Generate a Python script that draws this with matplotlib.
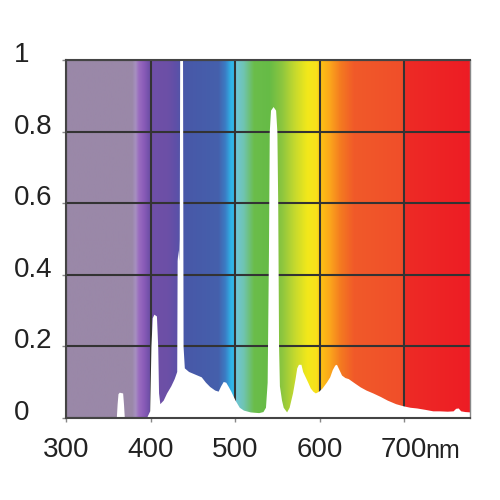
import numpy as np
import matplotlib
matplotlib.use("Agg")
import matplotlib.pyplot as plt
from matplotlib.colors import LinearSegmentedColormap
from matplotlib.transforms import ScaledTranslation

plt.rcParams['font.family'] = ['Liberation Sans', 'DejaVu Sans']

# spectrum (wavelength nm, relative intensity)
wavelength = [300, 359.5, 360.5, 361.5, 363, 367, 368, 369, 395, 397, 399, 400.5,
              402, 404, 407, 408.5, 409.5, 411, 415, 419, 424, 428, 431, 431.5,
              432.5, 433.3, 434, 434.6, 437.8, 438.5, 440, 445, 450, 455, 460, 465,
              470, 476, 480, 483, 486, 489, 492, 495, 500, 505, 510, 518, 528, 533,
              536, 538, 539.5, 540.5, 542, 545, 548, 549.5, 550.5, 551.5, 552.5, 555,
              557, 561, 564, 568, 571, 573, 575, 578, 580, 583, 586, 589, 592, 595,
              599, 603, 608, 612, 615, 618, 620, 622, 626, 630, 634, 640, 648, 655,
              663, 672, 680, 690, 699, 707, 715, 725, 734, 742, 751, 758, 761, 764,
              767, 772, 778]
intensity = [0, 0, 0.04, 0.068, 0.072, 0.07, 0.04, 0, 0, 0.01, 0.02, 0.2,
             0.28, 0.29, 0.285, 0.2, 0.07, 0.04, 0.05, 0.07, 0.09, 0.11, 0.13, 0.44,
             0.47, 0.44, 0.5, 1.1, 1.1, 0.2, 0.14, 0.13, 0.125, 0.12, 0.115, 0.1,
             0.088, 0.078, 0.075, 0.09, 0.102, 0.1, 0.088, 0.075, 0.05, 0.03, 0.022, 0.017, 0.015, 0.018,
             0.03, 0.1, 0.45, 0.8, 0.86, 0.87, 0.86, 0.8, 0.6, 0.2, 0.09, 0.05,
             0.03, 0.017, 0.03, 0.07, 0.11, 0.14, 0.15, 0.15, 0.13, 0.115, 0.1, 0.084, 0.075, 0.07,
             0.075, 0.084, 0.1, 0.115, 0.135, 0.148, 0.15, 0.14, 0.12, 0.113, 0.11, 0.1, 0.087, 0.078,
             0.07, 0.06, 0.05, 0.04, 0.034, 0.03, 0.028, 0.024, 0.02, 0.02, 0.019, 0.02, 0.027, 0.028,
             0.02, 0.018, 0.017]

xticks = [300, 400, 500, 600, 700]
yticks = [0, 0.2, 0.4, 0.6, 0.8, 1]
ytick_labels = ['0', '0.2', '0.4', '0.6', '0.8', '1']

# background colour stops of the visible spectrum
bg_stops = [(300, '#9a88a8'), (378, '#9a88a8'), (382, '#a790c0'), (386, '#9a6cc0'),
            (392, '#8a5cb8'), (398, '#7050a8'), (420, '#6c4fa6'), (430, '#5e50a8'),
            (440, '#4858a8'), (480, '#4560ac'), (488, '#3b7cc4'), (495, '#2fb5e8'),
            (499.5, '#38b8e6'), (500.5, '#6ec6d8'), (510, '#70c4b0'), (522, '#6bbd4a'),
            (540, '#66bb46'), (555, '#8cc63f'), (570, '#c5d92e'), (585, '#f2e81a'),
            (596, '#f8e01c'), (600, '#fdc413'), (612, '#fba51c'), (624, '#f47b20'),
            (640, '#f15a29'), (699, '#f04e2a'), (700.5, '#ee2b26'), (778, '#ed1c24')]

x0, x1 = 300, 778
cmap = LinearSegmentedColormap.from_list(
    'spec', [((w - x0) / (x1 - x0), c) for w, c in bg_stops], N=1024)

fig = plt.figure(figsize=(5, 5), dpi=100)
ax = fig.add_axes([0.132, 0.164, 0.808, 0.716])

grad = np.linspace(0, 1, 1024).reshape(1, -1)
ax.imshow(grad, cmap=cmap, extent=[x0, x1, 0, 1], aspect='auto', zorder=0)

ax.set_axisbelow(True)
ax.fill_between(wavelength, intensity, color='white', lw=0, zorder=1)

ax.set_xlim(x0, x1)
ax.set_ylim(0, 1)
ax.set_xticks(xticks)
ax.set_yticks(yticks)
ax.set_yticklabels([])
ax.grid(True, color='#333333', lw=1.5)

for side in ['left', 'bottom', 'top']:
    ax.spines[side].set_color('#444444')
    ax.spines[side].set_linewidth(1.5)
ax.spines['right'].set_color('#888888')
ax.spines['right'].set_linewidth(1)

ax.tick_params(axis='x', length=3, width=1, color='#888888', pad=11, labelsize=20,
               labelcolor='#222222')
ax.tick_params(axis='y', length=3, width=1, color='#888888')

# y labels left-aligned, sitting a little above their grid lines
ytrans = ax.get_yaxis_transform() + ScaledTranslation(0, 0.05, fig.dpi_scale_trans)
for val, lab in zip(yticks, ytick_labels):
    ax.text(-0.1287, val, lab, transform=ytrans, fontsize=20, color='#222222',
            ha='left', va='center')

fig.text(425 / 500, 1 - 458 / 500, 'nm', fontsize=18, color='#222222',
         ha='left', va='baseline')

fig.savefig('out.png', dpi=100)
